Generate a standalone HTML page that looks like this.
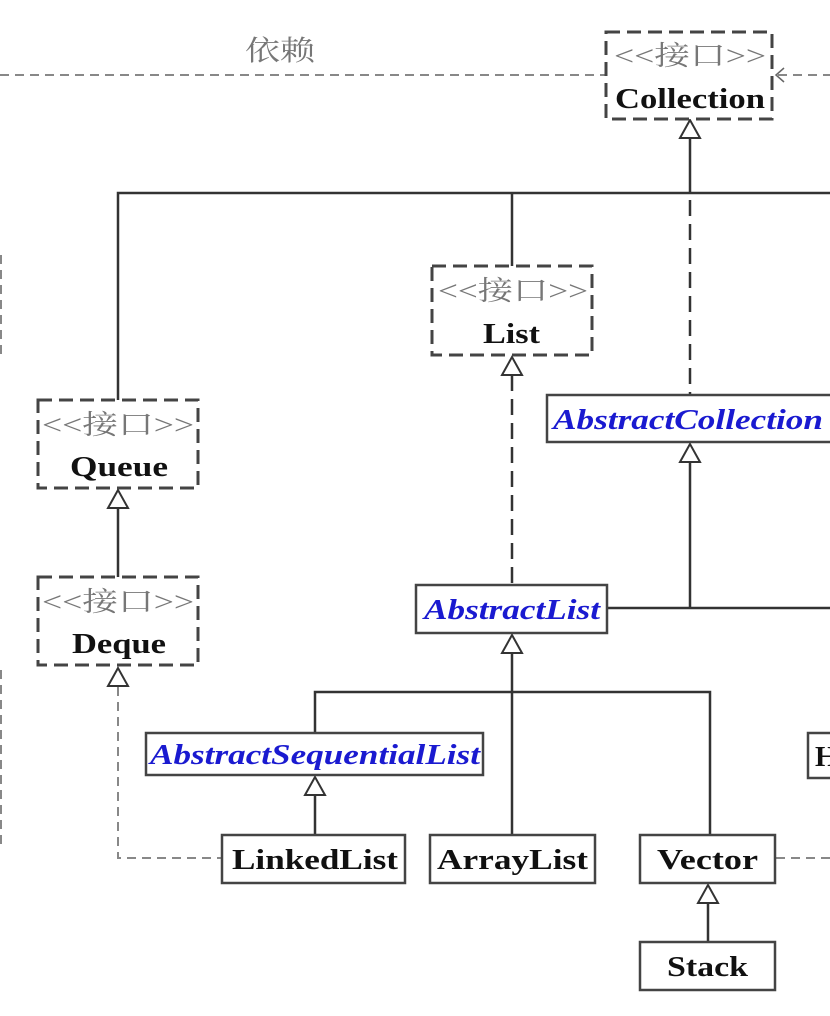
<!DOCTYPE html>
<html><head><meta charset="utf-8"><style>
html,body{margin:0;padding:0;background:#fff;}
svg{display:block;}
.st{font-family:"Liberation Serif","Noto Serif CJK SC",serif;font-size:27px;fill:#777;}
.nm{font-family:"Liberation Serif",serif;font-size:29px;font-weight:bold;fill:#111;}
.ab{font-family:"Liberation Serif",serif;font-size:29px;font-weight:bold;font-style:italic;fill:#1a1ad0;}
</style></head><body>
<svg width="830" height="1016" viewBox="0 0 830 1016" xmlns="http://www.w3.org/2000/svg">
<defs>
<g id="tri"><polygon points="0,0 -10,18 10,18" fill="#fff" stroke="#333" stroke-width="2"/></g>
</defs>
<g stroke="#888" stroke-width="2" fill="none" stroke-dasharray="9,6">
<line x1="0" y1="75" x2="606" y2="75"/>
<line x1="778" y1="75" x2="830" y2="75"/>
<polyline points="118,687 118,858 222,858"/>
<line x1="776" y1="858" x2="830" y2="858"/>
<line x1="1" y1="255" x2="1" y2="355"/>
<line x1="1" y1="670" x2="1" y2="850"/>
</g>
<polyline points="784,68 776,75 784,82" fill="none" stroke="#666" stroke-width="1.5"/>
<text x="245" y="60" class="st" style="font-size:28px" textLength="70" lengthAdjust="spacingAndGlyphs">依赖</text>
<g stroke="#333" stroke-width="2.5" fill="none">
<line x1="690" y1="138" x2="690" y2="193"/>
<polyline points="118,400 118,193 830,193"/>
<line x1="512" y1="193" x2="512" y2="266"/>
<line x1="118" y1="508" x2="118" y2="577"/>
<line x1="690" y1="462" x2="690" y2="608"/>
<line x1="607" y1="608" x2="830" y2="608"/>
<line x1="512" y1="653" x2="512" y2="835"/>
<polyline points="315,733 315,692 710,692 710,835"/>
<line x1="315" y1="795" x2="315" y2="835"/>
<line x1="708" y1="903" x2="708" y2="942"/>
</g>
<g stroke="#333" stroke-width="2.5" fill="none" stroke-dasharray="16,8">
<line x1="690" y1="200" x2="690" y2="395"/>
<line x1="512" y1="375" x2="512" y2="585"/>
</g>
<use href="#tri" x="690" y="120"/>
<use href="#tri" x="512" y="357"/>
<use href="#tri" x="118" y="490"/>
<use href="#tri" x="118" y="668"/>
<use href="#tri" x="690" y="444"/>
<use href="#tri" x="512" y="635"/>
<use href="#tri" x="315" y="777"/>
<use href="#tri" x="708" y="885"/>
<g stroke="#444" stroke-width="3" fill="#fff" stroke-dasharray="14,7">
<rect x="606" y="32" width="166" height="87"/>
<rect x="432" y="266" width="160" height="89"/>
<rect x="38" y="400" width="160" height="88"/>
<rect x="38" y="577" width="160" height="88"/>
</g>
<text x="614" y="65" class="st" textLength="152" lengthAdjust="spacingAndGlyphs">&lt;&lt;接口&gt;&gt;</text>
<text x="615" y="108" class="nm" textLength="150" lengthAdjust="spacingAndGlyphs">Collection</text>
<text x="438" y="300" class="st" textLength="150" lengthAdjust="spacingAndGlyphs">&lt;&lt;接口&gt;&gt;</text>
<text x="483" y="343" class="nm" textLength="57" lengthAdjust="spacingAndGlyphs">List</text>
<text x="42" y="434" class="st" textLength="152" lengthAdjust="spacingAndGlyphs">&lt;&lt;接口&gt;&gt;</text>
<text x="70" y="476" class="nm" textLength="98" lengthAdjust="spacingAndGlyphs">Queue</text>
<text x="42" y="611" class="st" textLength="152" lengthAdjust="spacingAndGlyphs">&lt;&lt;接口&gt;&gt;</text>
<text x="72" y="653" class="nm" textLength="94" lengthAdjust="spacingAndGlyphs">Deque</text>
<g stroke="#444" stroke-width="2.5" fill="#fff">
<rect x="547" y="395" width="290" height="47"/>
<rect x="416" y="585" width="191" height="48"/>
<rect x="146" y="733" width="337" height="42"/>
<rect x="222" y="835" width="183" height="48"/>
<rect x="430" y="835" width="165" height="48"/>
<rect x="640" y="835" width="135" height="48"/>
<rect x="640" y="942" width="135" height="48"/>
<rect x="808" y="733" width="30" height="45"/>
</g>
<text x="553" y="429" class="ab" textLength="270" lengthAdjust="spacingAndGlyphs">AbstractCollection</text>
<text x="424" y="619" class="ab" textLength="176" lengthAdjust="spacingAndGlyphs">AbstractList</text>
<text x="150" y="764" class="ab" textLength="330" lengthAdjust="spacingAndGlyphs">AbstractSequentialList</text>
<text x="232" y="869" class="nm" textLength="166" lengthAdjust="spacingAndGlyphs">LinkedList</text>
<text x="437" y="869" class="nm" textLength="151" lengthAdjust="spacingAndGlyphs">ArrayList</text>
<text x="657" y="869" class="nm" textLength="101" lengthAdjust="spacingAndGlyphs">Vector</text>
<text x="667" y="976" class="nm" textLength="81" lengthAdjust="spacingAndGlyphs">Stack</text>
<text x="815" y="766" class="nm">H</text>
</svg>
</body></html>
